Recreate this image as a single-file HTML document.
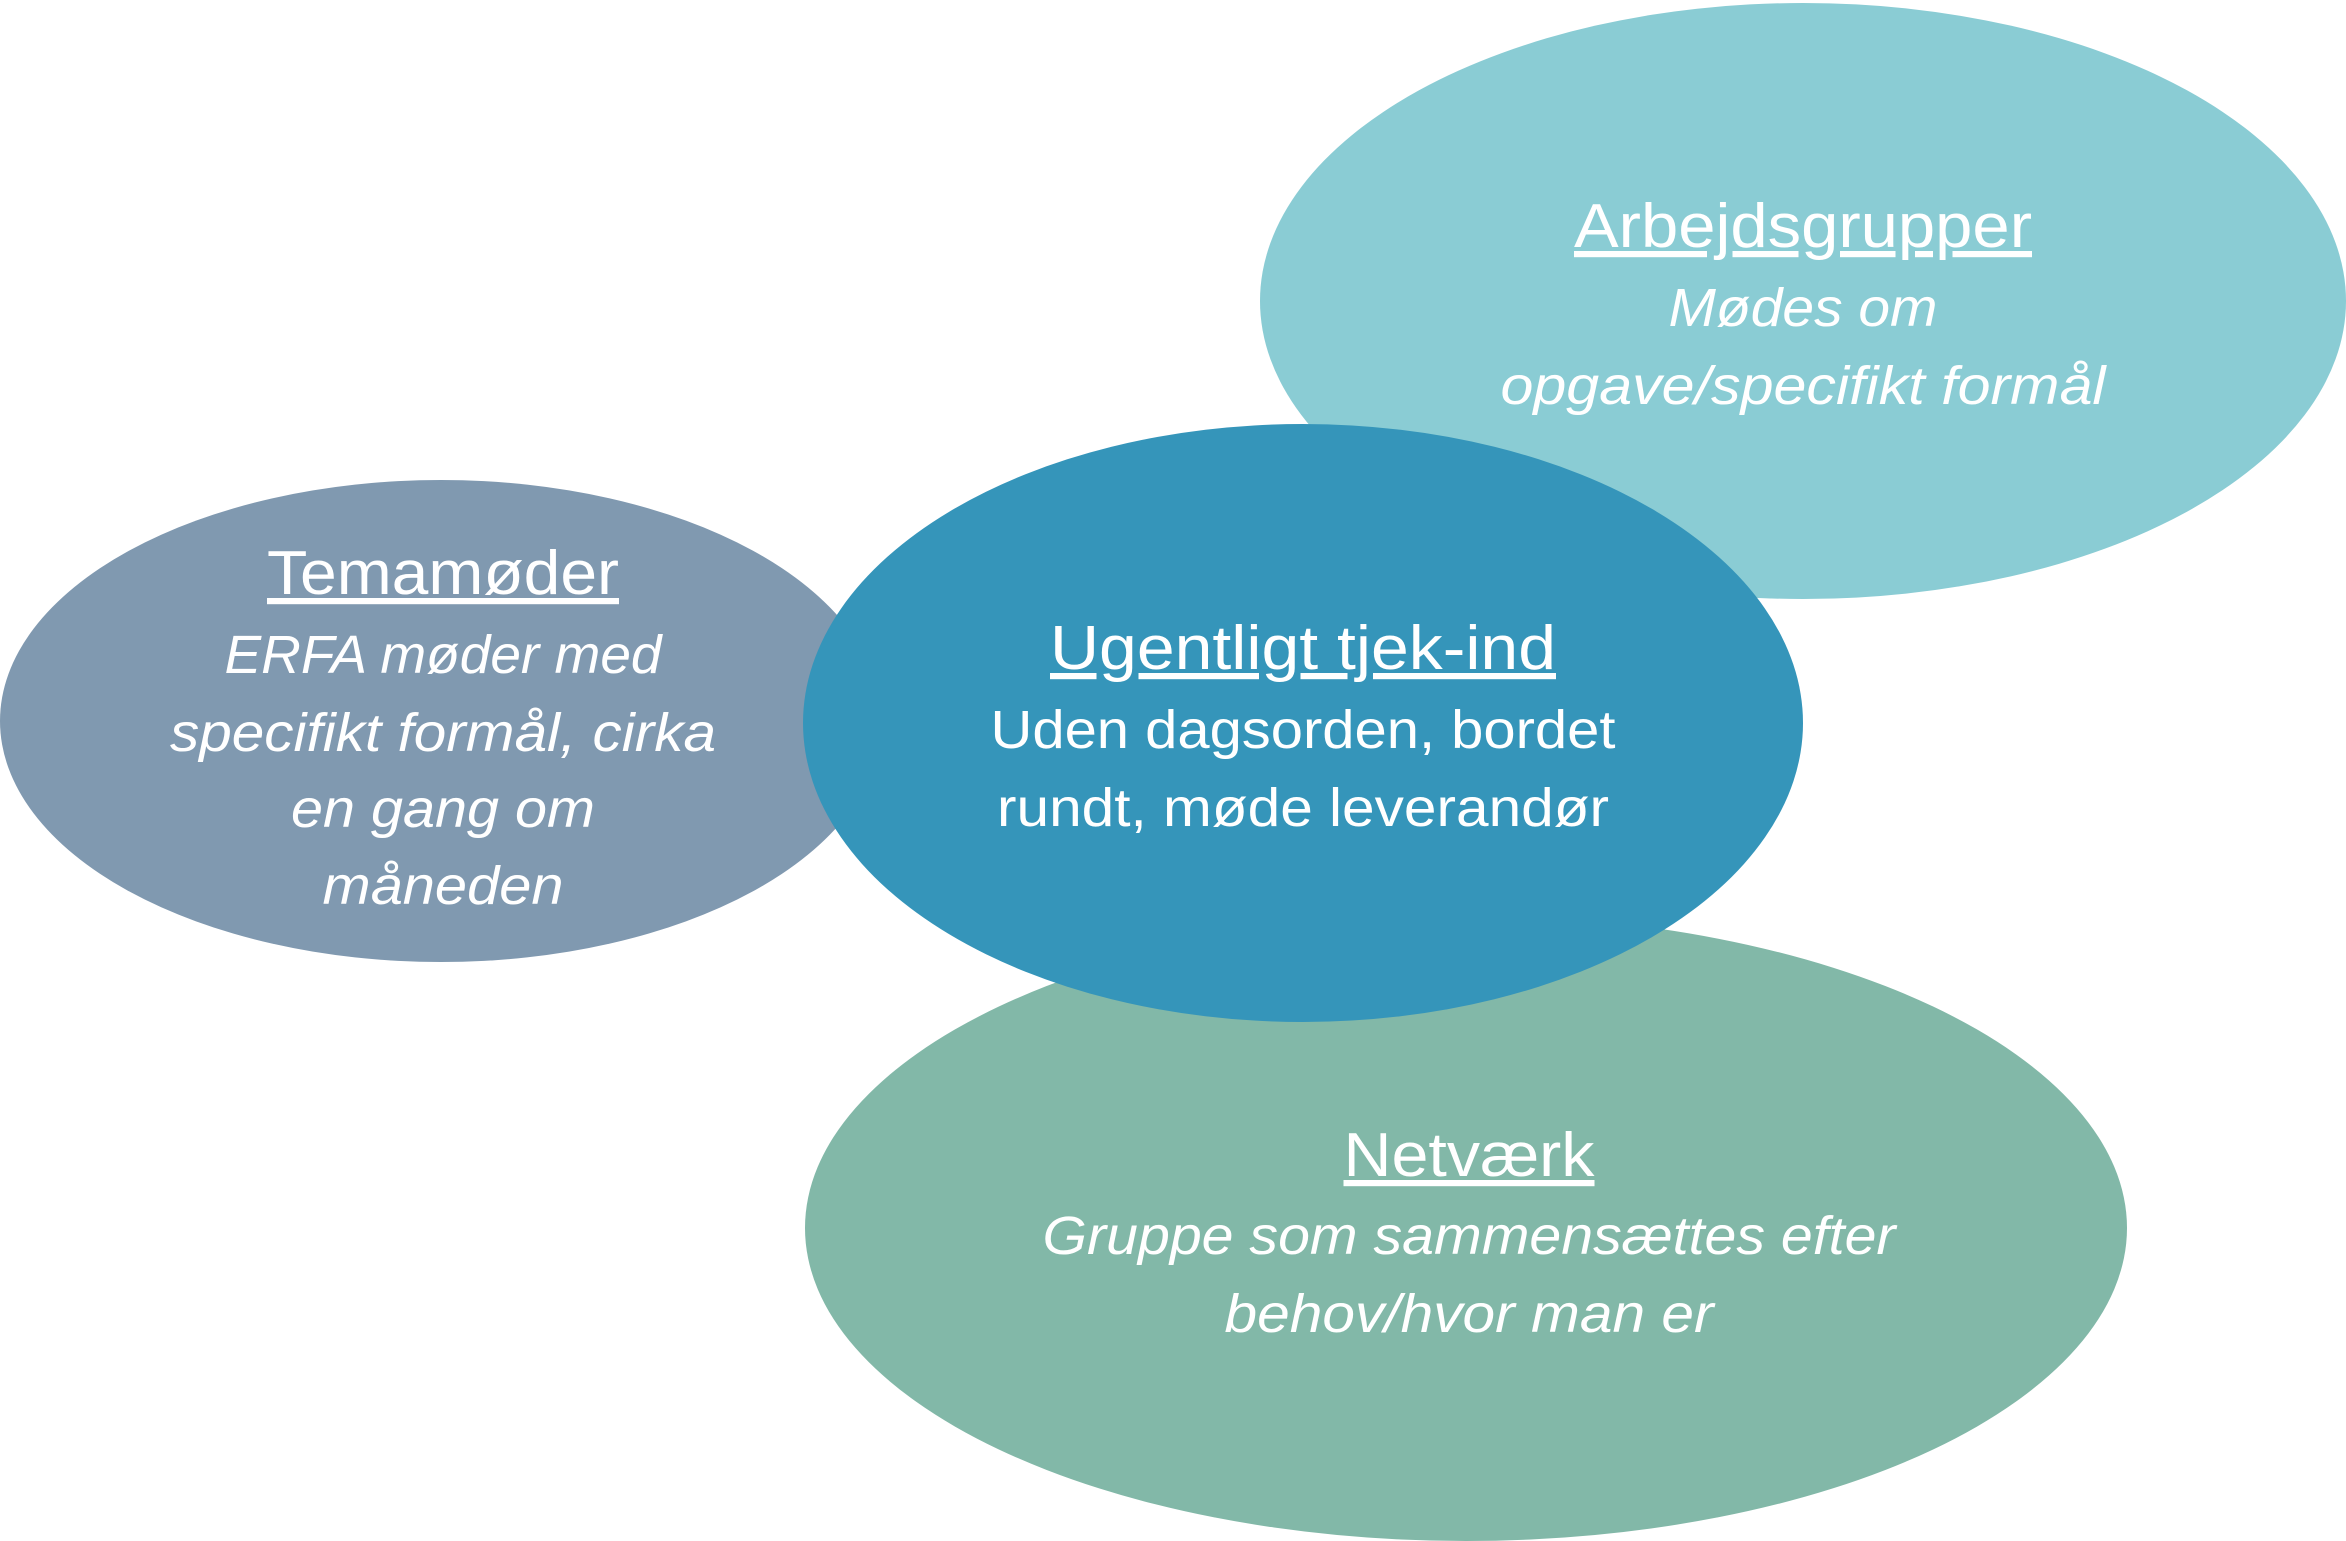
<!DOCTYPE html>
<html><head><meta charset="utf-8"><style>
html,body{margin:0;padding:0;background:#fff;}
svg{display:block}
text{font-family:"Liberation Sans",sans-serif;fill:#fff;text-anchor:middle;}
.t{font-size:62px;text-decoration:underline;}
.b{font-size:54px;}
.i{font-size:54px;font-style:italic;}
</style></head><body>
<svg width="2346" height="1541" viewBox="0 0 2346 1541" xmlns="http://www.w3.org/2000/svg">
<ellipse cx="1803" cy="301" rx="543" ry="298" fill="#8ACCD4"/>
<ellipse cx="441" cy="721" rx="441" ry="241" fill="#8099B0"/>
<ellipse cx="1466" cy="1228" rx="661" ry="313" fill="#82B8A8"/>
<ellipse cx="1303" cy="723" rx="500" ry="299" fill="#3595BA"/>

<text class="t" x="1803" y="247" textLength="458" lengthAdjust="spacingAndGlyphs">Arbejdsgrupper</text>
<text class="i" x="1803" y="326" textLength="269" lengthAdjust="spacingAndGlyphs">Mødes om</text>
<text class="i" x="1803" y="404" textLength="605" lengthAdjust="spacingAndGlyphs">opgave/specifikt formål</text>

<text class="t" x="443" y="594" textLength="352" lengthAdjust="spacingAndGlyphs">Temamøder</text>
<text class="i" x="443" y="673" textLength="437" lengthAdjust="spacingAndGlyphs">ERFA møder med</text>
<text class="i" x="443" y="751" textLength="546" lengthAdjust="spacingAndGlyphs">specifikt formål, cirka</text>
<text class="i" x="443" y="827" textLength="304" lengthAdjust="spacingAndGlyphs">en gang om</text>
<text class="i" x="443" y="904" textLength="241" lengthAdjust="spacingAndGlyphs">måneden</text>

<text class="t" x="1303" y="669" textLength="506" lengthAdjust="spacingAndGlyphs">Ugentligt tjek-ind</text>
<text class="b" x="1303" y="748" textLength="625" lengthAdjust="spacingAndGlyphs">Uden dagsorden, bordet</text>
<text class="b" x="1303" y="826" textLength="612" lengthAdjust="spacingAndGlyphs">rundt, møde leverandør</text>

<text class="t" x="1469" y="1176" textLength="251" lengthAdjust="spacingAndGlyphs">Netværk</text>
<text class="i" x="1469" y="1254" textLength="853" lengthAdjust="spacingAndGlyphs">Gruppe som sammensættes efter</text>
<text class="i" x="1469" y="1332" textLength="489" lengthAdjust="spacingAndGlyphs">behov/hvor man er</text>
</svg>
</body></html>
